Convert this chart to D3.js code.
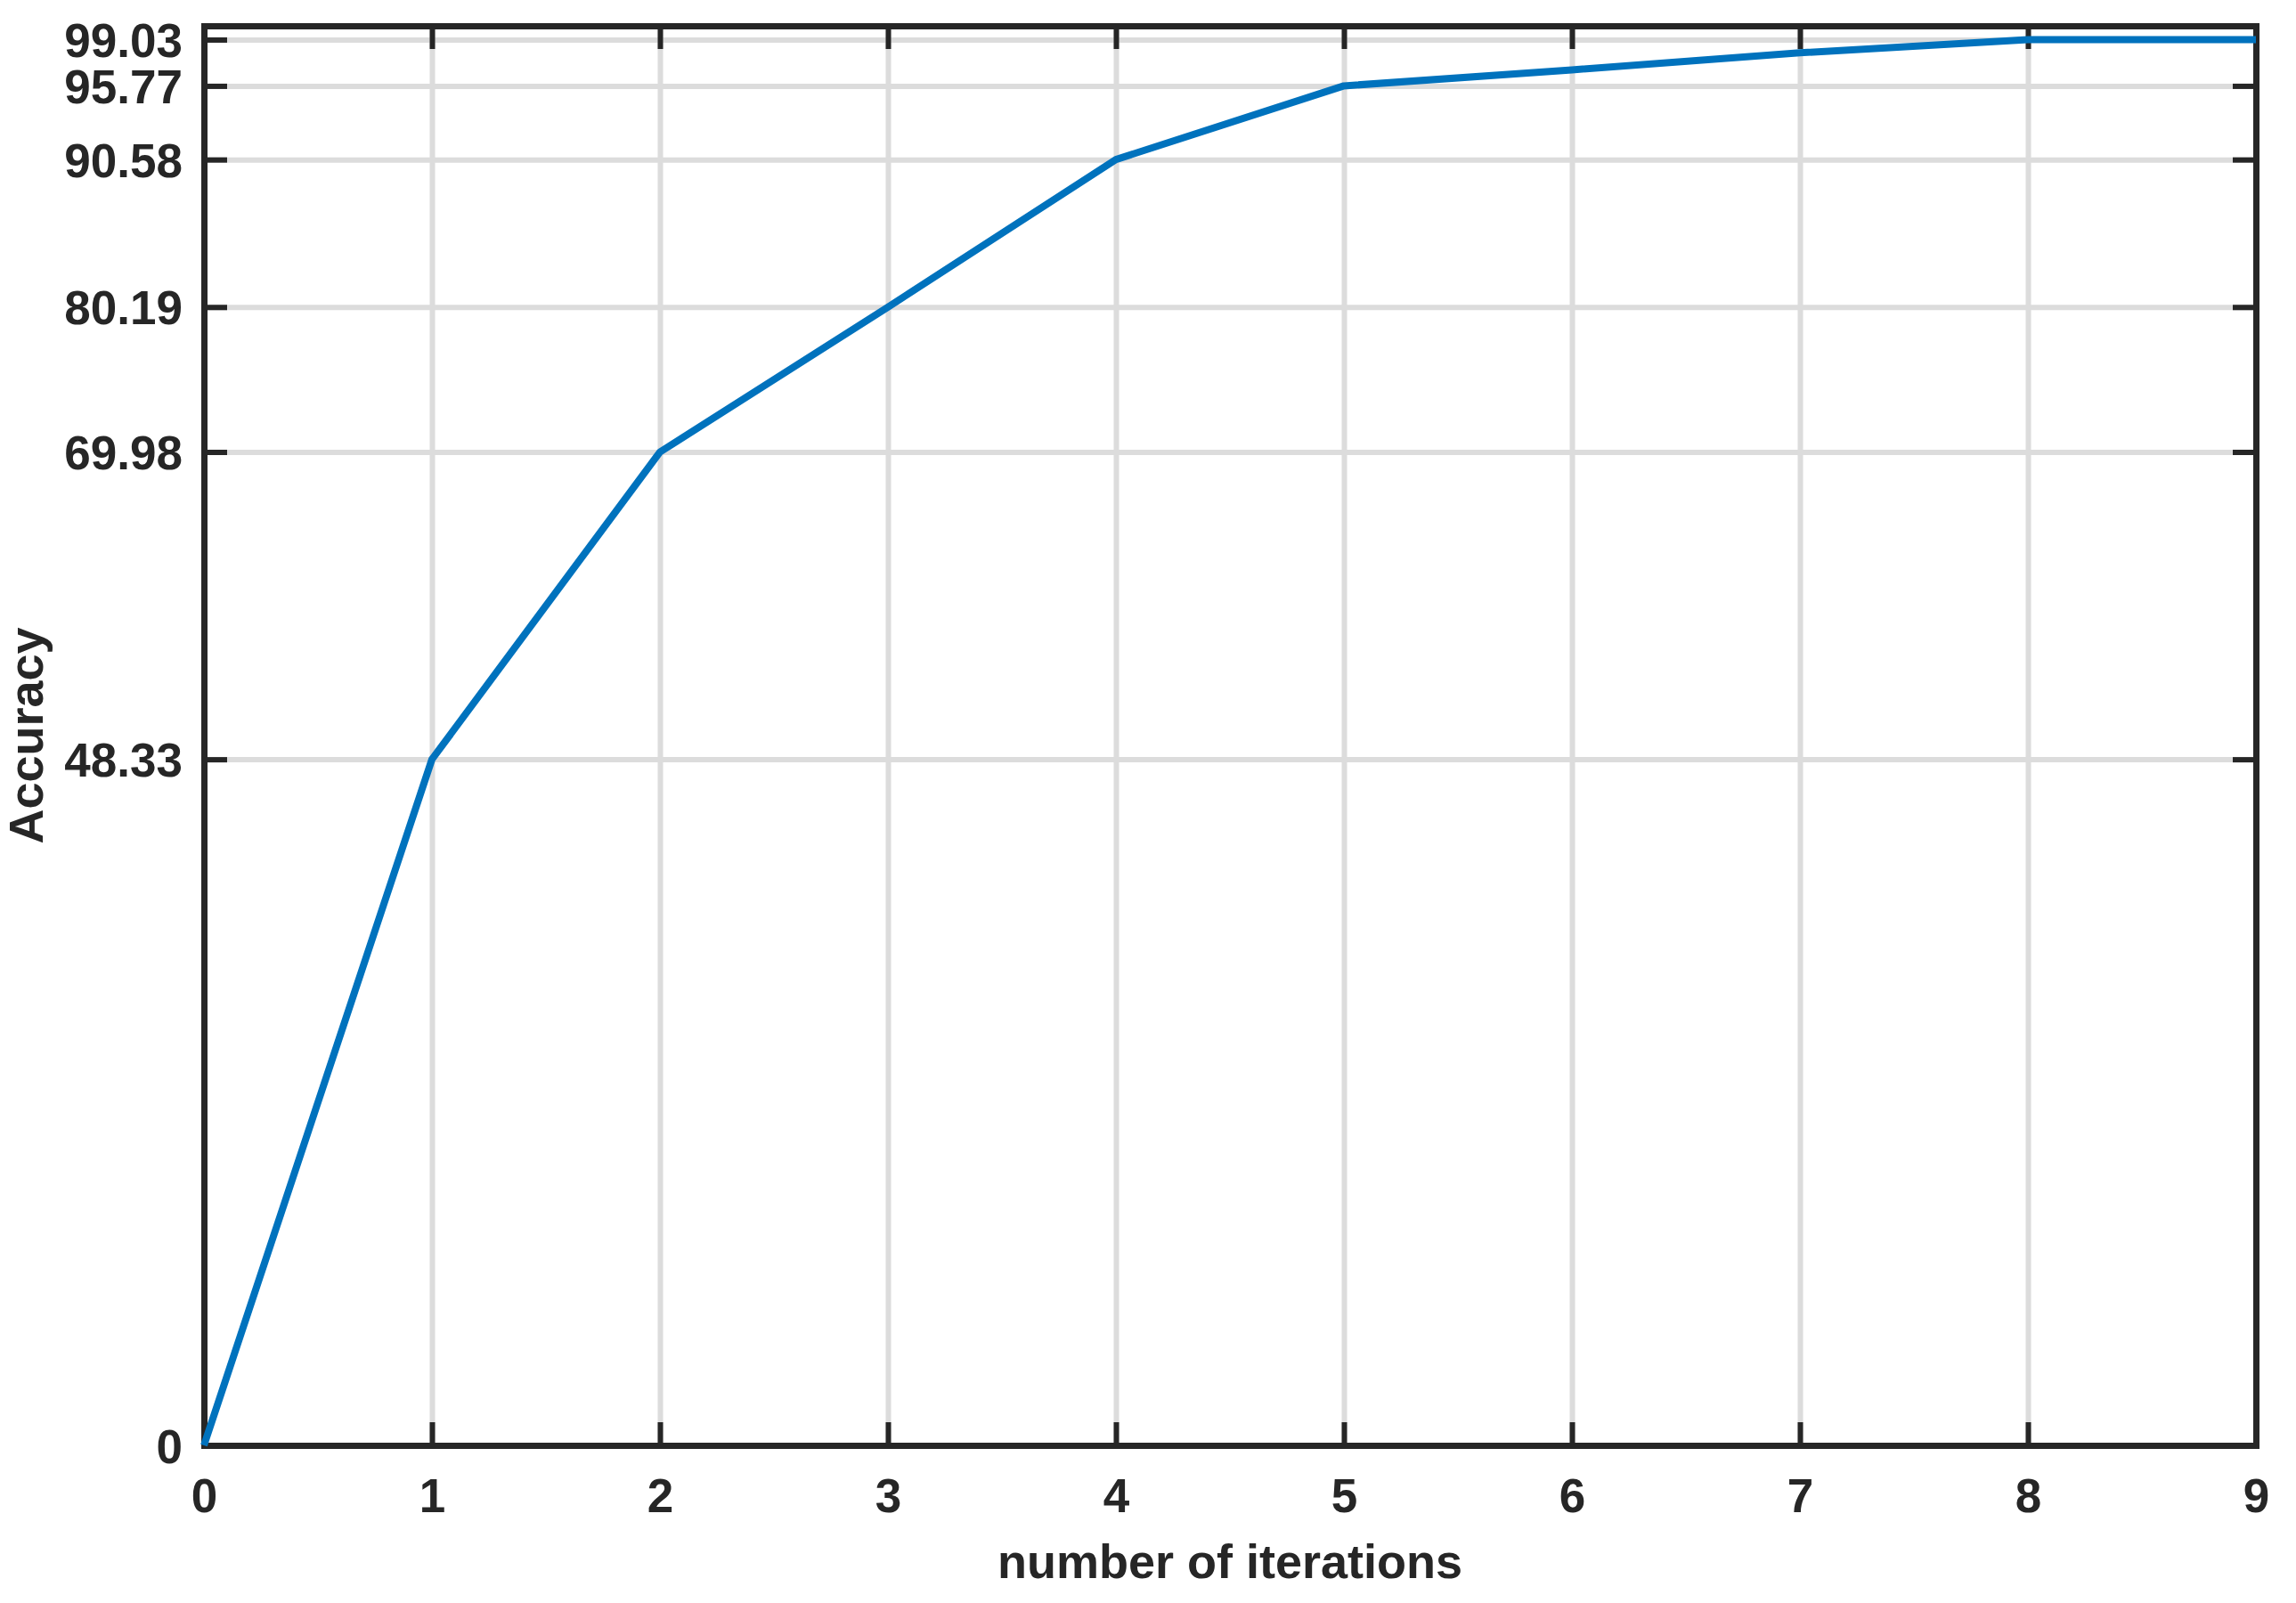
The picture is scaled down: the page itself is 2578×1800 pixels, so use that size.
<!DOCTYPE html>
<html>
<head>
<meta charset="utf-8">
<script src="https://cdn.jsdelivr.net/npm/d3@7"></script>
<style>
  html, body { margin: 0; padding: 0; background: #ffffff; }
  svg { display: block; }
</style>
</head>
<body>
<script>
// ---- data ----
const iterations = [0, 1, 2, 3, 4, 5, 6, 7, 8, 9];
const accuracy   = [0, 48.33, 69.98, 80.19, 90.58, 95.77, 96.9, 98.1, 99.03, 99.03];
const yTickValues = [0, 48.33, 69.98, 80.19, 90.58, 95.77, 99.03];
const yTickLabels = ["0", "48.33", "69.98", "80.19", "90.58", "95.77", "99.03"];
const xTickValues = [0, 1, 2, 3, 4, 5, 6, 7, 8, 9];
const xLabel = "number of iterations";
const yLabel = "Accuracy";

// ---- layout ----
const W = 2578, H = 1800;
const pLeft = 229, pRight = 2533, pTop = 29, pBottom = 1623;
const font = "'Liberation Sans', Arial, sans-serif";
const ink = "#262626";

const svg = d3.select("body").append("svg")
  .attr("width", W).attr("height", H)
  .attr("viewBox", `0 0 ${W} ${H}`);

const x = d3.scaleLinear().domain([0, 9]).range([pLeft, pRight]);
const y = d3.scaleLinear().domain([0, 100]).range([pBottom, pTop]);

// ---- grid ----
const grid = svg.append("g").attr("class", "grid");
grid.append("g")
  .attr("transform", `translate(0,${pBottom})`)
  .call(d3.axisBottom(x).tickValues(xTickValues.slice(1, -1)).tickSize(-(pBottom - pTop)).tickFormat(""))
  .call(g => g.select(".domain").remove())
  .call(g => g.selectAll("line").attr("stroke", "#dcdcdc").attr("stroke-width", 6));
grid.append("g")
  .attr("transform", `translate(${pLeft},0)`)
  .call(d3.axisLeft(y).tickValues(yTickValues.slice(1)).tickSize(-(pRight - pLeft)).tickFormat(""))
  .call(g => g.select(".domain").remove())
  .call(g => g.selectAll("line").attr("stroke", "#dcdcdc").attr("stroke-width", 6));

// ---- axes (box) ----
function styleAxis(g) {
  g.select(".domain").attr("stroke", ink).attr("stroke-width", 7).attr("stroke-linecap", "square");
  g.selectAll(".tick line").attr("stroke", ink).attr("stroke-width", 6);
  g.selectAll(".tick text")
    .attr("fill", ink)
    .attr("font-family", font)
    .attr("font-weight", "bold")
    .attr("font-size", 53);
}

svg.append("g")
  .attr("transform", `translate(0,${pBottom})`)
  .call(d3.axisBottom(x).tickValues(xTickValues).tickSizeInner(-26).tickSizeOuter(0).tickPadding(37).tickFormat(d3.format("d")))
  .call(styleAxis);

svg.append("g")
  .attr("transform", `translate(0,${pTop})`)
  .call(d3.axisTop(x).tickValues(xTickValues).tickSizeInner(-26).tickSizeOuter(0).tickFormat(""))
  .call(styleAxis);

svg.append("g")
  .attr("transform", `translate(${pLeft},0)`)
  .call(d3.axisLeft(y).tickValues(yTickValues).tickSizeInner(-26).tickSizeOuter(0).tickPadding(24)
        .tickFormat((d, i) => yTickLabels[i]))
  .call(styleAxis)
  .call(g => g.selectAll(".tick text").attr("dy", "0.36em"));

svg.append("g")
  .attr("transform", `translate(${pRight},0)`)
  .call(d3.axisRight(y).tickValues(yTickValues).tickSizeInner(-26).tickSizeOuter(0).tickFormat(""))
  .call(styleAxis);

// ---- data line ----
const line = d3.line()
  .x((d, i) => x(iterations[i]))
  .y(d => y(d));

svg.append("path")
  .datum(accuracy)
  .attr("fill", "none")
  .attr("stroke", "#0072BD")
  .attr("stroke-width", 8)
  .attr("stroke-linejoin", "round")
  .attr("d", line);

// ---- axis labels ----
svg.append("text")
  .attr("x", (pLeft + pRight) / 2)
  .attr("y", 1772)
  .attr("text-anchor", "middle")
  .attr("font-family", font)
  .attr("font-weight", "bold")
  .attr("font-size", 54)
  .attr("fill", ink)
  .text(xLabel);

svg.append("text")
  .attr("transform", `translate(48,${(pTop + pBottom) / 2}) rotate(-90)`)
  .attr("text-anchor", "middle")
  .attr("font-family", font)
  .attr("font-weight", "bold")
  .attr("font-size", 54)
  .attr("fill", ink)
  .text(yLabel);
</script>
</body>
</html>
